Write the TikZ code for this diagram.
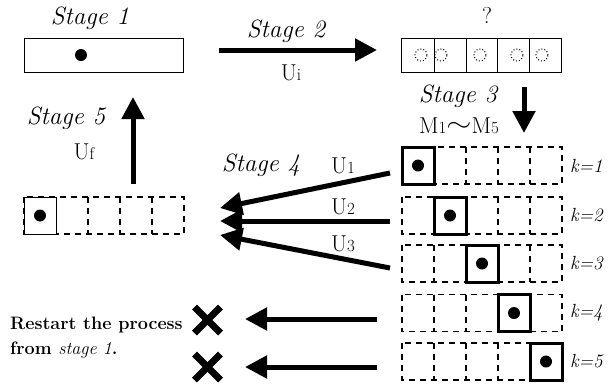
\documentclass[tikz,border=0pt]{standalone}
\usepackage{fontspec}
\usetikzlibrary{arrows.meta}
\begin{document}
\begin{tikzpicture}[x=1pt,y=-1pt,
  fat/.style={line width=5pt,-{Triangle[length=22pt,width=22pt]}},
  cellbox/.style={draw,line width=1pt},
  dcell/.style={draw,line width=1.5pt,dash pattern=on 6pt off 5pt},
  bcell/.style={draw,line width=3pt},
  dot/.style={fill,circle,inner sep=0pt,minimum size=12pt},
  odot/.style={draw,circle,dotted,line width=1pt,inner sep=0pt,minimum size=12pt},
  stg/.style={font=\fontsize{25}{25}\selectfont\itshape,inner sep=0pt},
  ulab/.style={font=\fontsize{23}{23}\selectfont,inner sep=0pt},
  klab/.style={font=\fontsize{19}{19}\selectfont\itshape,inner sep=0pt,anchor=west},
  xmark/.style={line width=7pt},
  note/.style={font=\fontsize{18}{19}\selectfont\bfseries,inner sep=0pt,anchor=west}
]
\newcommand{\sbs}[1]{{\fontsize{17}{17}\selectfont #1}}
\useasboundingbox (0,0) rectangle (608,384);
% Stage 1 box
\node[stg] (s1) at (90,18) {Stage 1};
\draw[cellbox] (24,38) rectangle (183,72);
\node[dot] (d0) at (81,55) {};
% Stage 2
\coordinate (a2s) at (219,50);
\coordinate (a2e) at (377,50);
\draw[fat] (a2s) -- (a2e);
\node[stg] (s2) at (286,31) {Stage 2};
\node[ulab] (ui) at (291,73) {U\sbs{i}};
% top right box
\node[ulab] (q) at (487,15) {?};
\draw[cellbox] (401,38) rectangle (561,72);
\foreach \x in {434,466,497,529} \draw[line width=1pt] (\x,38) -- (\x,72);
\foreach \x/\n in {421/c1,441/c2,480/c3,517/c4,542/c5} \node[odot] (\n) at (\x,55) {};
% Stage 3
\coordinate (a3s) at (524,87);
\coordinate (a3e) at (524,133);
\draw[fat] (a3s) -- (a3e);
\node[stg] (s3) at (458,96) {Stage 3};
\node[ulab] (m) at (459,126) {M\sbs{1}\raisebox{2pt}{\scalebox{1.3}[1]{$\sim$}}M\sbs{5}};
% rows
\foreach \k/\y in {1/165.5,2/215.5,3/263.5,4/313,5/361.5}{
  \draw[dcell] (402,\y-18.5) rectangle (562,\y+18.5);
  \foreach \x in {434,466,498,530} \draw[dcell] (\x,\y-18.5) -- (\x,\y+18.5);
  \node[klab] (k\k) at (570,\y) {k=\k};
}
\foreach \k/\y in {1/165.5,2/215.5,3/263.5,4/313,5/361.5}{
  \pgfmathsetmacro{\xl}{402+32*(\k-1)}
  \draw[bcell,fill=white] (\xl,\y-18.5) rectangle (\xl+32,\y+18.5);
  \node[dot] (r\k) at (\xl+16,\y) {};
}
% result row
\draw[dcell] (24,197) rectangle (184,234);
\foreach \x in {88,120,152} \draw[dcell] (\x,197) -- (\x,234);
\draw[cellbox,fill=white] (24,197) rectangle (56,234);
\node[dot] (rd) at (40,215.5) {};
% Stage 4 arrows
\coordinate (u1s) at (390,173);
\coordinate (u1e) at (220,208);
\coordinate (u2s) at (390,221);
\coordinate (u2e) at (220,221);
\coordinate (u3s) at (390,268);
\coordinate (u3e) at (220,235);
\draw[fat] (u1s) -- (u1e);
\draw[fat] (u2s) -- (u2e);
\draw[fat] (u3s) -- (u3e);
\node[stg] (s4) at (261,165) {Stage 4};
\node[ulab] (l1) at (343,166) {U\sbs{1}};
\node[ulab] (l2) at (343,207) {U\sbs{2}};
\node[ulab] (l3) at (343,244) {U\sbs{3}};
% Stage 5
\coordinate (a5s) at (133,184);
\coordinate (a5e) at (133,97);
\draw[fat] (a5s) -- (a5e);
\node[stg] (s5) at (66,118) {Stage 5};
\node[ulab] (uf) at (84,152) {U\sbs{f}};
% k=4,5 arrows
\coordinate (b4s) at (377,319);
\coordinate (b4e) at (245,319);
\coordinate (b5s) at (377,367);
\coordinate (b5e) at (245,367);
\draw[fat] (b4s) -- (b4e);
\draw[fat] (b5s) -- (b5e);
% crosses
\foreach \n/\y in {x4/320,x5/367}{
  \coordinate (\n) at (207.5,\y);
  \draw[xmark] ([shift={(-13,-13)}]\n) -- ([shift={(13,13)}]\n);
  \draw[xmark] ([shift={(-13,13)}]\n) -- ([shift={(13,-13)}]\n);
}
\node[note] (rs1) at (10,325) {Restart the process};
\node[note] (rs2) at (10,350) {from {\mdseries\itshape stage 1}.};
\end{tikzpicture}
\end{document}
